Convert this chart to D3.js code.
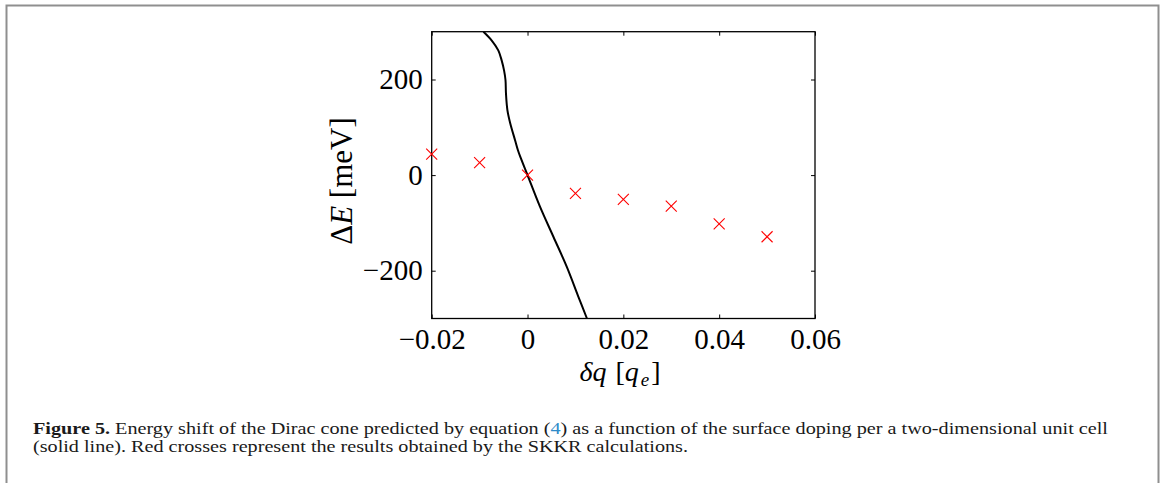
<!DOCTYPE html>
<html>
<head>
<meta charset="utf-8">
<script src="https://cdn.jsdelivr.net/npm/d3@7"></script>
<style>
  body { margin: 0; background: #fff; }
  svg text { font-family: "Liberation Serif", "Times New Roman", serif; }
</style>
</head>
<body>
<div id="chart"></div>
<script>
// SKKR results (red crosses)
var skkrQ = [-0.02, -0.01, 0, 0.01, 0.02, 0.03, 0.04, 0.05];
var skkrE = [44, 26, 0, -38, -51, -65, -102, -129];

// equation (4) prediction (solid line)
var modelQ = [-0.0092, -0.0075, -0.0061, -0.0054, -0.0049, -0.0046, -0.0045, -0.0042, -0.0036, -0.0026, -0.0020, -0.0015, 0, 0.0026, 0.0054, 0.0082, 0.0106, 0.0124];
var modelE = [300, 282, 261, 240, 219, 199, 171, 136, 108, 73, 52, 38, 0, -66, -129, -192, -254, -300];

var xTicks = [-0.02, 0, 0.02, 0.04, 0.06];
var yTicks = [-200, 0, 200];

var width = 1165,
    height = 483;

var x = d3.scaleLinear().domain([-0.02, 0.06]).range([431.7, 815]);
var y = d3.scaleLinear().domain([-300, 300]).range([318.5, 31.7]);

var fmt = function(d) { return d < 0 ? "\u2212" + Math.abs(d) : String(d); };

var svg = d3.select("#chart").append("svg")
    .attr("width", width)
    .attr("height", height);

// page frame
svg.append("rect")
    .attr("x", 6.5).attr("y", 5.5)
    .attr("width", 1152).attr("height", 520)
    .attr("fill", "none")
    .attr("stroke", "#8f8f8f")
    .attr("stroke-width", 2);

svg.append("clipPath").attr("id", "plotclip")
    .append("rect")
    .attr("x", x.range()[0]).attr("y", y.range()[1])
    .attr("width", x.range()[1] - x.range()[0])
    .attr("height", y.range()[0] - y.range()[1]);

// axes, MATLAB style ticks pointing inwards on all sides
var axisStyle = function(g) {
    g.select(".domain").remove();
    g.selectAll(".tick line").attr("stroke", "#000").attr("stroke-width", 1);
    g.selectAll(".tick text")
        .attr("fill", "#000")
        .style("font-size", "29px");
};

svg.append("g")
    .attr("transform", "translate(0," + y(-300) + ")")
    .call(d3.axisBottom(x).tickValues(xTicks).tickFormat(fmt).tickSizeInner(-4).tickPadding(10))
    .call(axisStyle);

svg.append("g")
    .attr("transform", "translate(0," + y(300) + ")")
    .call(d3.axisTop(x).tickValues(xTicks).tickFormat("").tickSizeInner(-4))
    .call(axisStyle);

svg.append("g")
    .attr("transform", "translate(" + x(-0.02) + ",0)")
    .call(d3.axisLeft(y).tickValues(yTicks).tickFormat(fmt).tickSizeInner(-4).tickPadding(9))
    .call(axisStyle);

svg.append("g")
    .attr("transform", "translate(" + x(0.06) + ",0)")
    .call(d3.axisRight(y).tickValues(yTicks).tickFormat("").tickSizeInner(-4))
    .call(axisStyle);

svg.append("rect")
    .attr("x", x(-0.02)).attr("y", y(300))
    .attr("width", x(0.06) - x(-0.02))
    .attr("height", y(-300) - y(300))
    .attr("fill", "none")
    .attr("stroke", "#000")
    .attr("stroke-width", 1.3);

// model curve
var line = d3.line()
    .x(function(d) { return x(d[0]); })
    .y(function(d) { return y(d[1]); })
    .curve(d3.curveCatmullRom.alpha(0.5));

svg.append("path")
    .datum(d3.zip(modelQ, modelE))
    .attr("clip-path", "url(#plotclip)")
    .attr("d", line)
    .attr("fill", "none")
    .attr("stroke", "#000")
    .attr("stroke-width", 2);

// crosses
var cs = 5.5;
svg.append("g").selectAll("path")
    .data(d3.zip(skkrQ, skkrE))
    .enter().append("path")
    .attr("d", function(d) {
        var px = x(d[0]), py = y(d[1]);
        return "M" + (px - cs) + "," + (py - cs) + "L" + (px + cs) + "," + (py + cs) +
               "M" + (px - cs) + "," + (py + cs) + "L" + (px + cs) + "," + (py - cs);
    })
    .attr("fill", "none")
    .attr("stroke", "#ff0000")
    .attr("stroke-width", 1.1);

// axis labels
var xl = svg.append("text")
    .attr("x", 620).attr("y", 381)
    .attr("text-anchor", "middle")
    .style("font-size", "28px");
xl.append("tspan").style("font-style", "italic").text("\u03b4q");
xl.append("tspan").attr("dx", 2).text(" [");
xl.append("tspan").style("font-style", "italic").text("q");
xl.append("tspan").style("font-style", "italic").style("font-size", "19px").attr("dx", 2).attr("dy", 5).text("e");
xl.append("tspan").attr("dx", 2).attr("dy", -5).text("]");

var yl = svg.append("text")
    .attr("transform", "translate(352,181) rotate(-90)")
    .attr("text-anchor", "middle")
    .style("font-size", "31px");
yl.append("tspan").text("\u0394");
yl.append("tspan").style("font-style", "italic").text("E");
yl.append("tspan").text(" [meV]");

// caption
var c1 = svg.append("text")
    .attr("x", 33).attr("y", 434)
    .attr("textLength", 1075)
    .attr("lengthAdjust", "spacingAndGlyphs")
    .style("font-size", "17px")
    .attr("fill", "#1a1a1a");
c1.append("tspan").style("font-weight", "bold").text("Figure 5.");
c1.append("tspan").text(" Energy shift of the Dirac cone predicted by equation (");
c1.append("tspan").attr("fill", "#2e8bc9").text("4");
c1.append("tspan").text(") as a function of the surface doping per a two-dimensional unit cell");

svg.append("text")
    .attr("x", 33).attr("y", 452)
    .attr("textLength", 655)
    .attr("lengthAdjust", "spacingAndGlyphs")
    .style("font-size", "17px")
    .attr("fill", "#1a1a1a")
    .text("(solid line). Red crosses represent the results obtained by the SKKR calculations.");
</script>
</body>
</html>
